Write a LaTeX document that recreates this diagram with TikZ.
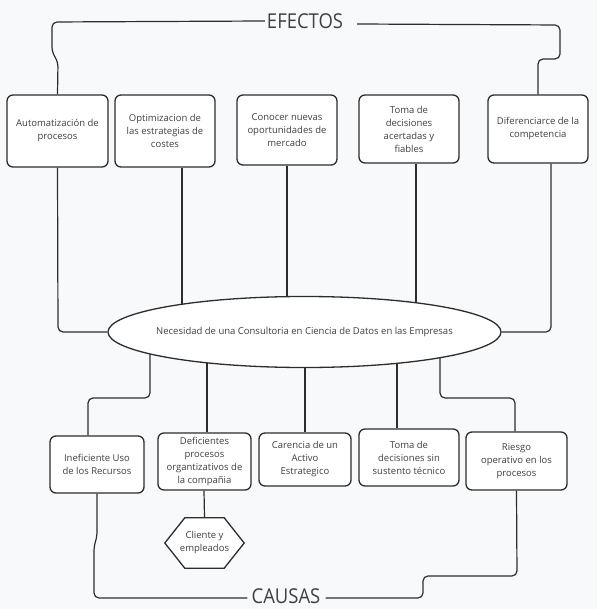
\documentclass[tikz,border=0pt]{standalone}
\usepackage{fontspec}
\setmainfont{Open Sans}
\newfontfamily\titlefont[FakeStretch=0.9]{Open Sans}
\usetikzlibrary{shapes.geometric,calc}
\pgfdeclarelayer{back}
\pgfdeclarelayer{lines}
\pgfsetlayers{back,lines,main}
\definecolor{bgc}{RGB}{248,249,250}
\definecolor{ln}{RGB}{45,45,45}
\definecolor{tx}{RGB}{64,64,64}
\begin{document}
\begin{tikzpicture}[x=1pt,y=-1pt,
  box/.style={draw=ln,line width=1.3pt,fill=white,rounded corners=6pt,align=center,text=tx,
    font=\fontsize{9.5}{13}\selectfont,inner sep=0pt},
  conn/.style={draw=ln,line width=1.2pt,rounded corners=5pt},
  txt/.style={text=tx,font=\fontsize{9.5}{13}\selectfont,align=center,inner sep=0pt},
  title/.style={text=tx,font=\titlefont\fontsize{20.5}{22}\selectfont,inner sep=0pt}]

\begin{pgfonlayer}{back}
  \fill[bgc] (0,0) rectangle (597,609);
\end{pgfonlayer}
\useasboundingbox (0,0) rectangle (597,609);

% titles
\node[title] (ef) at (305,21) {EFECTOS};
\node[title] (ca) at (286,596) {CAUSAS};

% effects
\node[box,minimum width=101pt,minimum height=72pt] (e1) at (57.5,131) {Automatización de\\procesos};
\node[box,minimum width=100pt,minimum height=72pt] (e2) at (165,131) {Optimizacion de\\las estrategias de\\costes};
\node[box,minimum width=100pt,minimum height=70pt] (e3) at (287,130) {Conocer nuevas\\oportunidades de\\mercado};
\node[box,minimum width=100pt,minimum height=68pt] (e4) at (409,129) {Toma de\\decisiones\\acertadas y\\fiables};
\node[box,minimum width=100pt,minimum height=68pt] (e5) at (538,129) {Diferenciarce de la\\competencia};

% central problem
\node[draw=ln,line width=1.3pt,fill=white,ellipse,minimum width=393pt,minimum height=71pt,inner sep=0pt] (ell) at (304.5,332) {};
\node[txt] (elltxt) at (ell.center) {Necesidad de una Consultoria en Ciencia de Datos en las Empresas};

% causes
\node[box,minimum width=94pt,minimum height=57pt] (c1) at (97,464.5) {Ineficiente Uso\\de los Recursos};
\node[box,minimum width=93pt,minimum height=57pt] (c2) at (204.5,461.5) {Deficientes\\procesos\\organtizativos de\\la compañia};
\node[box,minimum width=92pt,minimum height=53pt] (c3) at (305,459.5) {Carencia de un\\Activo\\Estrategico};
\node[box,minimum width=100pt,minimum height=57pt] (c4) at (409,457.5) {Toma de\\decisiones sin\\sustento técnico};
\node[box,minimum width=101pt,minimum height=58pt] (c5) at (516.5,461) {Riesgo\\operativo en los\\procesos};

% sub-cause hexagon
\node[txt,minimum width=79pt,minimum height=50pt] (hx) at (204.5,543) {Cliente y\\empleados};

\begin{pgfonlayer}{lines}
  % effects frame
  \draw[conn] (e1.north) -- (58,62) -- (52,52) -- (52,22) -- ([xshift=-2pt]ef.west);
  \draw[conn] ([xshift=14pt,yshift=-3pt]ef.east) -- (560,25) -- (560,59) -- (538,59) -- (e5.north);
  % effects to problem
  \draw[conn] (e1.south) -- (58,332) -- (ell.west);
  \draw[conn] ([xshift=17pt]e2.south) -- ++(0,150);
  \draw[conn] (e3.south) -- ++(0,150);
  \draw[conn] ([xshift=7pt]e4.south) -- ++(0,150);
  \draw[conn] ([xshift=13pt]e5.south) -- (551,332) -- (ell.east);
  % causes to problem
  \draw[conn] ([xshift=-9pt]c1.north) -- (88,398) -- (150,398) -- (150,340);
  \draw[conn] ([xshift=2.5pt]c2.north) -- ++(0,-100);
  \draw[conn] (c3.north) -- ++(0,-100);
  \draw[conn] ([xshift=-12pt]c4.north) -- ++(0,-100);
  \draw[conn] ([xshift=-1.5pt]c5.north) -- (515,398) -- (440,398) -- (440,340);
  % causes frame
  \draw[conn] (c1.south) -- (97,537) -- (94,546) -- (94,598) -- ([xshift=-4pt,yshift=-2pt]ca.west);
  \draw[conn] (c5.south) -- (517,576) -- (423,576) -- (423,598) -- ([xshift=5pt,yshift=-2pt]ca.east);
  % hexagon
  \draw[conn] ([xshift=-0.5pt]c2.south) -- (hx.north);
  \draw[draw=ln,line width=1.3pt,fill=white] (hx.west) -- ([xshift=20pt]hx.north west) -- ([xshift=-20pt]hx.north east)
     -- (hx.east) -- ([xshift=-20pt]hx.south east) -- ([xshift=20pt]hx.south west) -- cycle;
\end{pgfonlayer}
\end{tikzpicture}
\end{document}
